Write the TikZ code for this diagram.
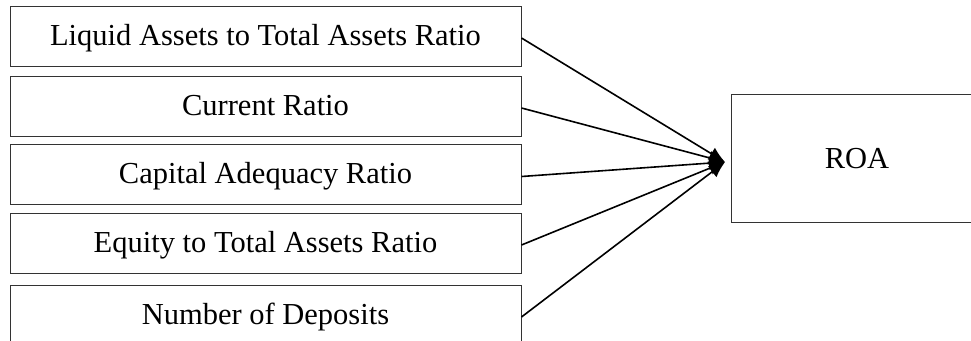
\documentclass[tikz,border=0pt]{standalone}
\usepackage{fontspec}
\setmainfont{Liberation Serif}
\usetikzlibrary{arrows.meta}
\begin{document}
\begin{tikzpicture}[x=1pt,y=-1pt,
  factor/.style={draw=black!80, line width=1pt, minimum width=511pt, minimum height=60pt,
    inner sep=0pt, font=\fontsize{30.5}{36}\selectfont, text height=22pt, text depth=4pt},
  outcome/.style={draw=black!80, line width=1pt, minimum width=252pt, minimum height=128pt,
    inner sep=0pt, font=\fontsize{30.5}{36}\selectfont, text height=24pt, text depth=4pt},
  link/.style={line width=1.6pt, -{Latex[length=16pt,width=14pt]}}]
  \useasboundingbox (0,0) rectangle (971,340);
  \clip (0,0) rectangle (971,340);
  \node[factor] (b1) at (265.5,36) {Liquid Assets to Total Assets Ratio};
  \node[factor] (b2) at (265.5,106) {Current Ratio};
  \node[factor] (b3) at (265.5,174.5) {Capital Adequacy Ratio};
  \node[factor] (b4) at (265.5,243) {Equity to Total Assets Ratio};
  \node[factor] (b5) at (265.5,315) {Number of Deposits};
  \node[outcome] (roa) at (857,158) {ROA};
  \coordinate (tip) at (725,162);
  \foreach \b in {b1,b2,b3,b4,b5}
    \draw[link] ([yshift=-2pt]\b.east) -- (tip);
\end{tikzpicture}
\end{document}
